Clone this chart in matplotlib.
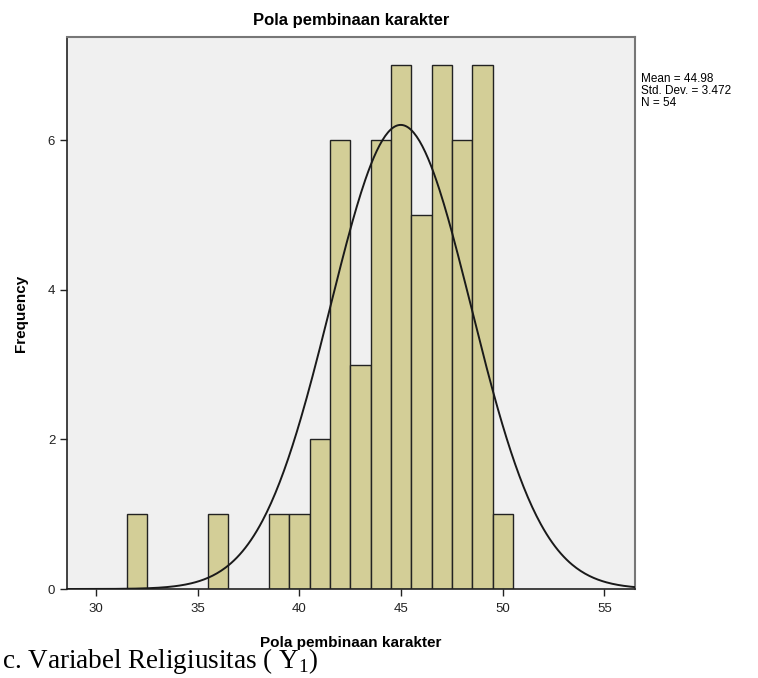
import numpy as np
import matplotlib
matplotlib.use('Agg')
import matplotlib.pyplot as plt

# data
skor = [32, 36, 39, 40, 41, 42, 43, 44, 45, 46, 47, 48, 49, 50]
frekuensi = [1, 1, 1, 1, 2, 6, 3, 6, 7, 5, 7, 6, 7, 1]
mean = 44.98
std = 3.472
n = 54

plt.rcParams['font.family'] = ['Liberation Sans', 'DejaVu Sans']
plt.rcParams['mathtext.fontset'] = 'custom'
plt.rcParams['mathtext.rm'] = 'Liberation Serif'

fig = plt.figure(figsize=(7.58, 6.78), dpi=100)
ax = fig.add_axes([67/758, 1-589/678, (635-67)/758, (589-37)/678])
ax.set_facecolor('#f0f0f0')

ax.bar(skor, frekuensi, width=1.0, color='#d3ce97', edgecolor='#222222', linewidth=1.0, zorder=2)

# kurva normal
xs = np.linspace(28.5, 56.5, 400)
ys = n * 1.0 * np.exp(-0.5 * ((xs - mean) / std) ** 2) / (std * np.sqrt(2 * np.pi))
ax.plot(xs, ys, color='#1a1a1a', lw=1.4, zorder=3)

ax.set_xlim(28.57, 56.5)
ax.set_ylim(0, 7.38)
ax.set_xticks([30, 35, 40, 45, 50, 55])
ax.set_yticks([0, 2, 4, 6])
ax.tick_params(direction='out', length=5, width=1, labelsize=9.5, colors='#222222')
ax.tick_params(axis='x', pad=5)

for s in ['top', 'right']:
    ax.spines[s].set_color('#777777')
    ax.spines[s].set_linewidth(1.5)
for s in ['left', 'bottom']:
    ax.spines[s].set_color('#222222')
    ax.spines[s].set_linewidth(1.2)

ax.set_title('Pola pembinaan karakter', fontsize=12, fontweight='bold', pad=9)
ax.set_ylabel('Frequency', fontsize=11, fontweight='bold', labelpad=14)
ax.xaxis.set_label_coords(0.47, -0.085)
ax.set_xlabel('Pola pembinaan karakter', fontsize=11, fontweight='bold')

fig.text(641/758, 1-73/678, 'Mean = %.2f\nStd. Dev. = %.3f\nN = %d' % (mean, std, n),
         fontsize=8.5, va='top', ha='left', linespacing=1.0)

fig.text(0.002, 1-668/678, r'c. Variabel Religiusitas ( Y$_\mathrm{1}$)',
         family='Liberation Serif', fontsize=19.5, va='baseline', ha='left')

plt.savefig('out.png', dpi=100)
